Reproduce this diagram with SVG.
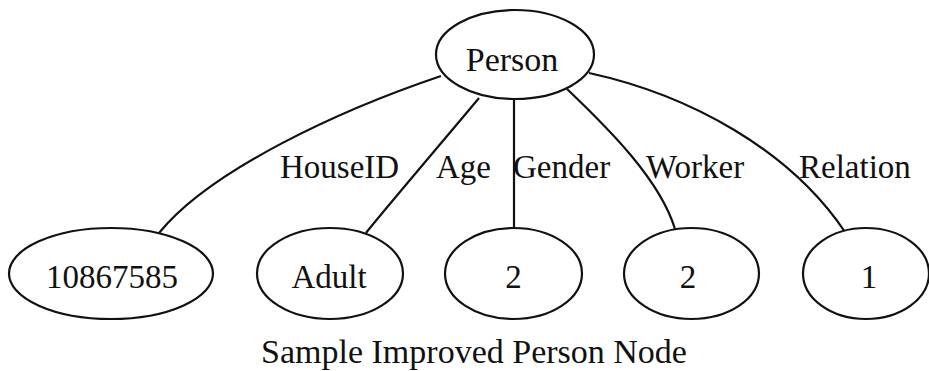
<svg xmlns="http://www.w3.org/2000/svg" width="929" height="371" viewBox="0 0 929 371">
  <style>
    .node ellipse { fill: #ffffff; stroke: #111111; stroke-width: 2.2; }
    .node text { font-family: "Liberation Serif", "Times New Roman", serif; font-size: 33px; fill: #111111; text-anchor: middle; }
    .edges path { fill: none; stroke: #111111; stroke-width: 2.2; }
    .edges text { font-family: "Liberation Serif", "Times New Roman", serif; font-size: 33px; fill: #111111; }
    .caption { font-family: "Liberation Serif", "Times New Roman", serif; font-size: 34px; fill: #111111; text-anchor: middle; }
  </style>
  <rect width="929" height="371" fill="#ffffff"/>

  <!-- attribute edges from Person to its value nodes -->
  <g id="edges" class="edges">
    <path id="e-houseid" d="M441,76 C340,110 210,170 159,233"/>
    <path id="e-age" d="M479,98 C471,108 374,222 366,233"/>
    <path id="e-gender" d="M514,99 L514,228"/>
    <path id="e-worker" d="M567,89 C610,130 660,180 675,229"/>
    <path id="e-relation" d="M589,73 C690,95 790,150 845,232"/>
    <text x="280" y="178">HouseID</text>
    <text x="436" y="178">Age</text>
    <text x="513" y="178">Gender</text>
    <text x="646" y="178">Worker</text>
    <text x="799" y="178">Relation</text>
  </g>

  <g id="node-person" class="node">
    <ellipse cx="515" cy="54.5" rx="79" ry="44.5"/>
    <text x="512" y="71" style="font-size:34px">Person</text>
  </g>

  <g id="node-houseid" class="node">
    <ellipse cx="111" cy="273.5" rx="102" ry="45.5"/>
    <text x="112" y="288">10867585</text>
  </g>

  <g id="node-age" class="node">
    <ellipse cx="330" cy="273.5" rx="73" ry="45.5"/>
    <text x="329" y="288">Adult</text>
  </g>

  <g id="node-gender" class="node">
    <ellipse cx="513.5" cy="273.5" rx="68.5" ry="45.5"/>
    <text x="513.5" y="288">2</text>
  </g>

  <g id="node-worker" class="node">
    <ellipse cx="691.5" cy="273.5" rx="67.5" ry="45.5"/>
    <text x="688" y="288">2</text>
  </g>

  <g id="node-relation" class="node">
    <ellipse cx="866" cy="273.5" rx="63" ry="45.5"/>
    <text x="869" y="288">1</text>
  </g>

  <text class="caption" x="474" y="363">Sample Improved Person Node</text>
</svg>
